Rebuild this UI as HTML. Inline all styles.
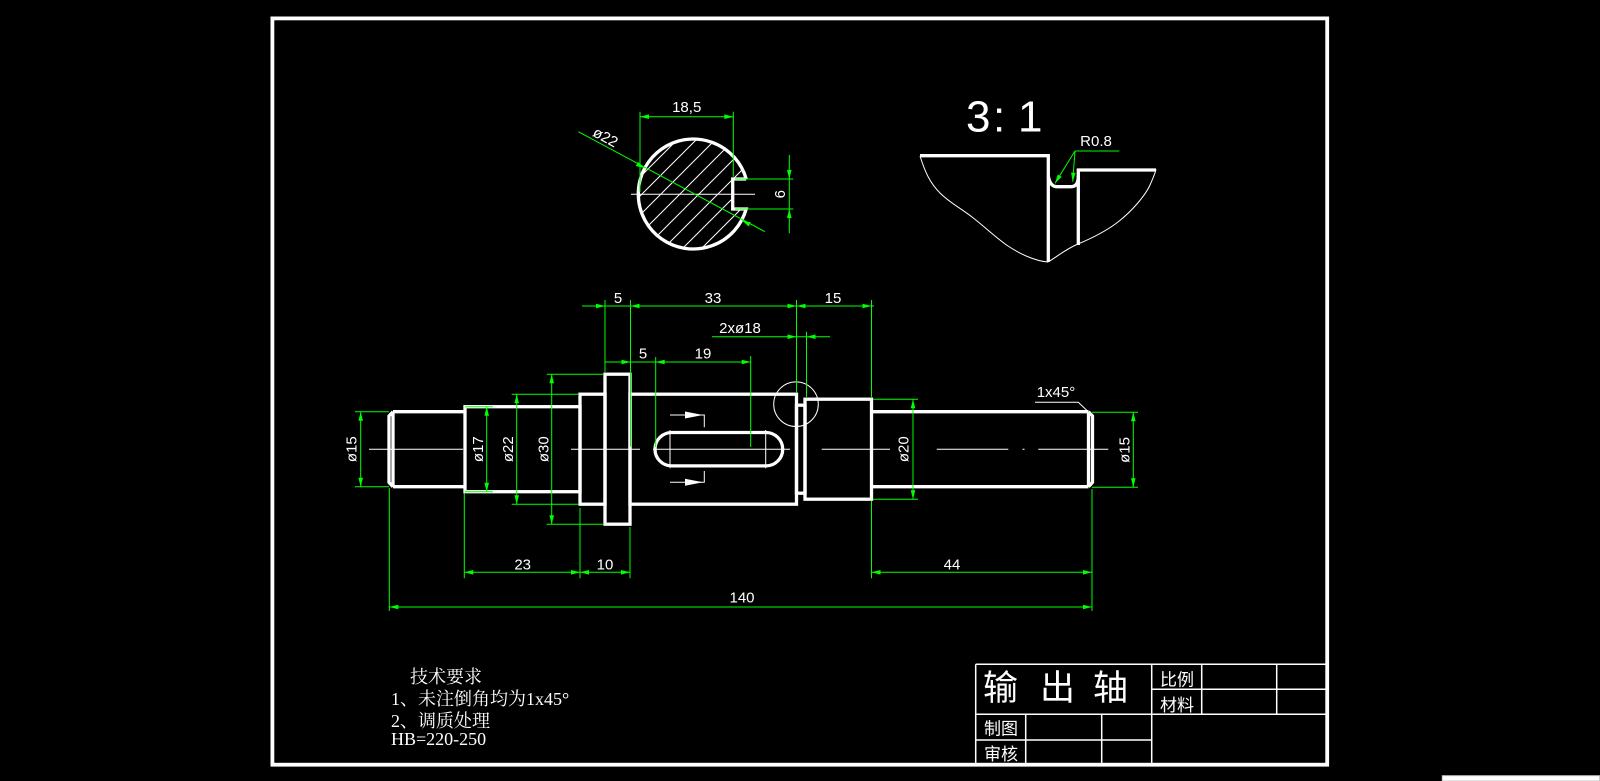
<!DOCTYPE html>
<html><head><meta charset="utf-8"><style>
html,body{margin:0;padding:0;background:#000;}
svg{display:block}
.d{font-family:"Liberation Sans",sans-serif;font-size:15px;fill:#fff}
</style></head><body>
<svg width="1600" height="781" viewBox="0 0 1600 781" xmlns="http://www.w3.org/2000/svg">
<defs>
<path id="ar" d="M0,0 L-9,-2.3 L-9,2.3 Z" fill="#00ff00"/>
<path id="wa" d="M0,0 L-18,-3.5 L-18,3.5 Z" fill="#fff"/>
<pattern id="hp" patternUnits="userSpaceOnUse" width="19" height="19" x="0" y="0">
<path d="M-1,1 L1,-1 M0,19 L19,0 M18,20 L20,18" stroke="#fff" stroke-width="1"/>
</pattern>
</defs>
<rect width="1600" height="781" fill="#000"/>
<!-- frame -->
<rect x="272.4" y="18.4" width="1054.8" height="746.3" fill="none" stroke="#fff" stroke-width="3.8"/>
<rect x="1442.3" y="775.7" width="157.2" height="5.3" fill="#fff" stroke="#c8c8c8" stroke-width="1"/>

<!-- title block -->
<g stroke="#fff" stroke-width="1.5" fill="none">
<path d="M975.7,664.3 H1327 M975.7,664.3 V764.7 M1151.7,664.3 V764.7 M1201.7,664.3 V714.3 M1276.7,664.3 V714.3 M1151.7,689.3 H1327 M975.7,714.3 H1327 M975.7,740 H1151.7 M1025.7,714.3 V764.7 M1101.7,714.3 V764.7"/>
</g>
<g font-family="'Liberation Sans','Noto Sans CJK SC',sans-serif" fill="#fff">
<text x="983" y="700" font-size="35">输</text>
<text x="1040" y="700" font-size="35">出</text>
<text x="1093" y="700" font-size="35">轴</text>
<text x="1160" y="685.5" font-size="17">比例</text>
<text x="1160" y="711" font-size="17">材料</text>
<text x="984" y="734.5" font-size="17">制图</text>
<text x="984" y="760" font-size="17">审核</text>
</g>

<!-- tech notes -->
<g font-family="'Liberation Serif','Noto Serif CJK SC',serif" font-size="18" fill="#fff">
<text x="410" y="683">技术要求</text>
<text x="391" y="705">1、未注倒角均为1x45°</text>
<text x="391" y="727">2、调质处理</text>
<text x="391" y="745">HB=220-250</text>
</g>

<!-- section view -->
<circle cx="693.3" cy="194.2" r="54" fill="url(#hp)" stroke="none"/>
<rect x="734" y="180" width="20" height="28" fill="#000"/>
<path d="M746.2,179 H732.7 V209 H746.2 A55,55 0 1 1 746.2,179" stroke="#fff" stroke-width="3.3" fill="none"/>
<path d="M631,194.2 H755" stroke="#fff" stroke-width="1"/>

<!-- detail view -->
<g font-family="'Liberation Sans',sans-serif" font-size="44" fill="#fff">
<text x="966" y="131.7">3</text>
<text x="993" y="131.7">:</text>
<text x="1018" y="131.7">1</text>
</g>
<g stroke="#fff" stroke-width="3.3" fill="none">
<path d="M920,155.7 H1048.3 V261.7"/>
<path d="M1048.3,176 Q1050,186.7 1057,186.7 H1071 Q1078.3,186.7 1078.3,176"/>
<path d="M1078.3,245 V170 H1156"/>
</g>
<g stroke="#fff" stroke-width="1" fill="none">
<path d="M920,156 C925,172 930,183 940,193 C950,203 962,209 972,217 C985,227 995,237 1008,246 C1020,254 1035,261 1048,262"/>
<path d="M1048,262 C1058,256 1066,249 1078,244 C1090,239 1105,232 1118,222 C1132,211 1145,196 1150,185 C1153,178 1155,174 1156,169.4"/>
</g>

<!-- shaft -->
<g stroke="#fff" stroke-width="3.3" fill="none">
<path d="M393,411.7 H465 M393,486.7 H465 M393,411.7 V486.7 M393,411.7 L389,416 V482.4 L393,486.7"/>
<rect x="465" y="406.7" width="115" height="85"/>
<rect x="580" y="394.2" width="25" height="110"/>
<rect x="605" y="374.2" width="25" height="150"/>
<rect x="630" y="394.2" width="166.5" height="110"/>
<rect x="796.5" y="405.2" width="8.5" height="88"/>
<rect x="805" y="399.2" width="66.5" height="100"/>
<path d="M871.5,411.7 H1088.5 M871.5,486.7 H1088.5 M1088.5,411.7 V486.7 M1088.5,411.7 L1092.5,416 V482.4 L1088.5,486.7"/>
<rect x="655" y="432.5" width="127.7" height="33.4" rx="16.7"/>
</g>
<g stroke="#fff" stroke-width="1" fill="none">
<path d="M369,449.2 H463 M571,449.2 H640 M653,449.2 H790 M821.7,449.2 H890 M936.7,449.2 H1008.3 M1022.5,449.2 H1024.5 M1038.3,449.2 H1108.3"/>
<path d="M670,430 V468.3 M765.7,430 V468.3"/>
<path d="M670,415 H704.3 V427.3 M670,482.3 H704.3 V471"/>
<circle cx="796" cy="404.2" r="22.3"/>
<path d="M1035,402.3 H1078.3 L1088.3,411.7"/>
</g>
<use href="#wa" transform="translate(703,415)"/>
<use href="#wa" transform="translate(703,482.3)"/>

<!-- green dimension lines -->
<g stroke="#00ff00" stroke-width="1" fill="none">
<path d="M582,306 H874"/>
<path d="M605,300 V372 M630.5,300 V446.7 M796.5,300 V393 M871.5,300 V397"/>
<path d="M712,336.7 H830 M806.5,331.7 V397"/>
<path d="M605,362 H751 M655.7,357 V447 M750.7,356 V447"/>
<path d="M360.7,411.7 V486.7 M355,411.7 H389 M355,486.7 H389"/>
<path d="M486.7,406.7 V491.7 M465,406.7 H493 M465,491.7 H493"/>
<path d="M516.7,394.2 V504.2 M511.7,394.2 H578 M511.7,504.2 H578"/>
<path d="M551.7,374.2 V524.2 M546.7,374.2 H603 M546.7,524.2 H603"/>
<path d="M913,399.2 V499.2 M873,399.2 H918 M873,499.2 H918"/>
<path d="M1133.3,412.3 V487.3 M1092,412.3 H1138 M1092,487.3 H1138"/>
<path d="M464.3,572.3 H630 M464.3,493 V578.3 M580,508 V578.3 M630,527 V578.3"/>
<path d="M871.5,572.3 H1092 M871.5,501 V578.3"/>
<path d="M389.3,607 H1092 M389.3,488 V611 M1092,489 V611"/>
<path d="M578.3,131.7 L765,231.7"/>
<path d="M640,116.7 H733.3 M640,111.7 V191.7 M733.3,111.7 V176.7"/>
<path d="M789.3,155 V233.3 M735,179 H793.3 M735,209 H793.3"/>
<path d="M1075,151 H1119.3 M1075,151 L1055,183.3 M1075,151 L1072.7,181.7"/>
</g>

<!-- arrows -->
<use href="#ar" transform="translate(605,306)"/>
<use href="#ar" transform="translate(630.5,306) rotate(180)"/>
<use href="#ar" transform="translate(796.5,306)"/>
<use href="#ar" transform="translate(796.5,306) rotate(180)"/>
<use href="#ar" transform="translate(871.5,306)"/>
<use href="#ar" transform="translate(796.5,336.7)"/>
<use href="#ar" transform="translate(806.5,336.7) rotate(180)"/>
<use href="#ar" transform="translate(630.5,362)"/>
<use href="#ar" transform="translate(655.7,362) rotate(180)"/>
<use href="#ar" transform="translate(750.7,362)"/>
<use href="#ar" transform="translate(360.7,411.7) rotate(-90)"/>
<use href="#ar" transform="translate(360.7,486.7) rotate(90)"/>
<use href="#ar" transform="translate(486.7,406.7) rotate(-90)"/>
<use href="#ar" transform="translate(486.7,491.7) rotate(90)"/>
<use href="#ar" transform="translate(516.7,394.2) rotate(-90)"/>
<use href="#ar" transform="translate(516.7,504.2) rotate(90)"/>
<use href="#ar" transform="translate(551.7,374.2) rotate(-90)"/>
<use href="#ar" transform="translate(551.7,524.2) rotate(90)"/>
<use href="#ar" transform="translate(913,399.2) rotate(-90)"/>
<use href="#ar" transform="translate(913,499.2) rotate(90)"/>
<use href="#ar" transform="translate(1133.3,412.3) rotate(-90)"/>
<use href="#ar" transform="translate(1133.3,487.3) rotate(90)"/>
<use href="#ar" transform="translate(464.3,572.3) rotate(180)"/>
<use href="#ar" transform="translate(580,572.3)"/>
<use href="#ar" transform="translate(580,572.3) rotate(180)"/>
<use href="#ar" transform="translate(630,572.3)"/>
<use href="#ar" transform="translate(871.5,572.3) rotate(180)"/>
<use href="#ar" transform="translate(1092,572.3)"/>
<use href="#ar" transform="translate(389.3,607) rotate(180)"/>
<use href="#ar" transform="translate(1092,607)"/>
<use href="#ar" transform="translate(640,116.7) rotate(180)"/>
<use href="#ar" transform="translate(733.3,116.7)"/>
<use href="#ar" transform="translate(789.3,179) rotate(90)"/>
<use href="#ar" transform="translate(789.3,209) rotate(-90)"/>
<use href="#ar" transform="translate(644.8,168.2) rotate(28.2)"/>
<use href="#ar" transform="translate(741.8,220.2) rotate(208.2)"/>
<use href="#ar" transform="translate(1055,183.3) rotate(121.8)"/>
<use href="#ar" transform="translate(1072.7,181.7) rotate(94.3)"/>

<!-- dimension labels -->
<g class="d" text-anchor="middle">
<text x="618" y="303">5</text>
<text x="713" y="303">33</text>
<text x="833" y="303">15</text>
<text x="740" y="333">2xø18</text>
<text x="643" y="358.5">5</text>
<text x="703" y="358.5">19</text>
<text x="522.7" y="569.5">23</text>
<text x="605" y="569.5">10</text>
<text x="952" y="569.5">44</text>
<text x="742" y="602.5">140</text>
<text x="686.7" y="112">18,5</text>
<text x="1096" y="146">R0.8</text>
<text transform="translate(356.7,449.2) rotate(-90)">ø15</text>
<text transform="translate(483,449.2) rotate(-90)">ø17</text>
<text transform="translate(513,449.2) rotate(-90)">ø22</text>
<text transform="translate(548.5,449.2) rotate(-90)">ø30</text>
<text transform="translate(908.5,449.2) rotate(-90)">ø20</text>
<text transform="translate(1129.3,450) rotate(-90)">ø15</text>
<text transform="translate(785,194.2) rotate(-90)">6</text>
<text transform="translate(601.7,144.2) rotate(28.2)" y="-3">ø22</text>
</g>
<text class="d" x="1036.7" y="397">1x45°</text>
</svg>
</body></html>
